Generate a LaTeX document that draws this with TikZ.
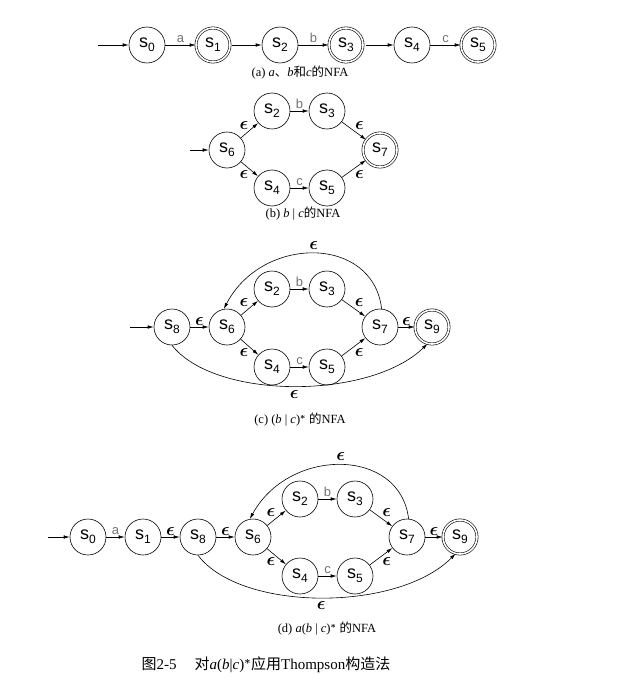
\documentclass[tikz,border=0pt]{standalone}
\usepackage{amsmath}
\usepackage{graphicx}
\usepackage{fontspec}
\setmainfont{Liberation Serif}
\setsansfont{Liberation Sans}
\newfontfamily\cjk{Noto Sans CJK SC}
\usetikzlibrary{arrows.meta}
\newcommand{\stname}[1]{s\raisebox{-0.45ex}{\fontsize{12}{12}\selectfont #1}}
\newcommand{\epsi}{\scalebox{1.8}{$\boldsymbol{\epsilon}$}}

\begin{document}
\begin{tikzpicture}[x=1pt,y=-1pt,line width=0.6pt,
    >={Latex[length=6pt,width=3.5pt]},
    st/.style={circle,draw,minimum size=36pt,inner sep=0pt,
      font=\sffamily\fontsize{18}{18}\selectfont},
    acc/.style={st,double,double distance=1.6pt,minimum size=34pt},
    lbl/.style={font=\sffamily\fontsize{13}{13}\selectfont,text=black!55,inner sep=2pt},
    eps/.style={inner sep=1pt},
    captext/.style={font=\fontsize{12.5}{14}\selectfont}]
  \useasboundingbox (0,0) rectangle (644,679);

  % (a) a, b, c
  \coordinate (ain0) at (98,45);
  \coordinate (ain2) at (232,45);
  \coordinate (ain4) at (366,45);
  \node[st]  (a0) at (147,45) {\stname{0}};
  \node[acc] (a1) at (213,45) {\stname{1}};
  \node[st]  (a2) at (280,45) {\stname{2}};
  \node[acc] (a3) at (346,45) {\stname{3}};
  \node[st]  (a4) at (412,45) {\stname{4}};
  \node[acc] (a5) at (478,45) {\stname{5}};
  \draw[->] (ain0) -- (a0);
  \draw[->] (ain2) -- (a2);
  \draw[->] (ain4) -- (a4);
  \draw[->] (a0) -- node[lbl,above] {a} (a1);
  \draw[->] (a2) -- node[lbl,above] {b} (a3);
  \draw[->] (a4) -- node[lbl,above] {c} (a5);
  \node[captext] (capa) at (300,73) {(a) \textit{a}{\cjk 、}\textit{b}{\cjk 和}\textit{c}{\cjk 的}NFA};

  % (b) b|c
  \coordinate (bin) at (190,150);
  \node[st]  (b6) at (227,150) {\stname{6}};
  \node[st]  (b2) at (272,111) {\stname{2}};
  \node[st]  (b3) at (327,111) {\stname{3}};
  \node[st]  (b4) at (272,188) {\stname{4}};
  \node[st]  (b5) at (327,188) {\stname{5}};
  \node[acc] (b7) at (380,150) {\stname{7}};
  \draw[->] (bin) -- (b6);
  \draw[->] (b6) -- node[eps,above left] {\epsi} (b2);
  \draw[->] (b6) -- node[eps,below left] {\epsi} (b4);
  \draw[->] (b2) -- node[lbl,above] {b} (b3);
  \draw[->] (b4) -- node[lbl,above] {c} (b5);
  \draw[->] (b3) -- node[eps,above right] {\epsi} (b7);
  \draw[->] (b5) -- node[eps,below right] {\epsi} (b7);
  \node[captext] (capb) at (303,214) {(b) \textit{b} | \textit{c}{\cjk 的}NFA};

  % (c) (b|c)*
  \coordinate (cin) at (130,327);
  \node[st]  (c8) at (172,327) {\stname{8}};
  \node[st]  (c6) at (227,327) {\stname{6}};
  \node[st]  (c2) at (272,289) {\stname{2}};
  \node[st]  (c3) at (327,289) {\stname{3}};
  \node[st]  (c4) at (272,367) {\stname{4}};
  \node[st]  (c5) at (327,367) {\stname{5}};
  \node[st]  (c7) at (380,327) {\stname{7}};
  \node[acc] (c9) at (432,327) {\stname{9}};
  \draw[->] (cin) -- (c8);
  \draw[->] (c8) -- node[eps,above] {\epsi} (c6);
  \draw[->] (c6) -- node[eps,above left] {\epsi} (c2);
  \draw[->] (c6) -- node[eps,below left] {\epsi} (c4);
  \draw[->] (c2) -- node[lbl,above] {b} (c3);
  \draw[->] (c4) -- node[lbl,above] {c} (c5);
  \draw[->] (c3) -- node[eps,above right] {\epsi} (c7);
  \draw[->] (c5) -- node[eps,below right] {\epsi} (c7);
  \draw[->] (c7) -- node[eps,above] {\epsi} (c9);
  \draw[->] (c7.85) .. controls (373,235) and (262,235) .. node[eps,above=3pt] {\epsi} (c6.100);
  \draw[->] (c8.270) .. controls (215,400) and (370,400) .. node[eps,below=3pt] {\epsi} (c9.255);
  \node[captext] (capc) at (300,420) {(c) (\textit{b} | \textit{c})$^{\boldsymbol{*}}$ {\cjk 的}NFA};

  % (d) a(b|c)*
  \coordinate (din) at (48,537);
  \node[st]  (d0) at (88,537)  {\stname{0}};
  \node[st]  (d1) at (143,537) {\stname{1}};
  \node[st]  (d8) at (198,537) {\stname{8}};
  \node[st]  (d6) at (253,537) {\stname{6}};
  \node[st]  (d2) at (300,499) {\stname{2}};
  \node[st]  (d3) at (355,499) {\stname{3}};
  \node[st]  (d4) at (300,576) {\stname{4}};
  \node[st]  (d5) at (355,576) {\stname{5}};
  \node[st]  (d7) at (407,537) {\stname{7}};
  \node[acc] (d9) at (460,537) {\stname{9}};
  \draw[->] (din) -- (d0);
  \draw[->] (d0) -- node[lbl,above] {a} (d1);
  \draw[->] (d1) -- node[eps,above] {\epsi} (d8);
  \draw[->] (d8) -- node[eps,above] {\epsi} (d6);
  \draw[->] (d6) -- node[eps,above left] {\epsi} (d2);
  \draw[->] (d6) -- node[eps,below left] {\epsi} (d4);
  \draw[->] (d2) -- node[lbl,above] {b} (d3);
  \draw[->] (d4) -- node[lbl,above] {c} (d5);
  \draw[->] (d3) -- node[eps,above right] {\epsi} (d7);
  \draw[->] (d5) -- node[eps,below right] {\epsi} (d7);
  \draw[->] (d7) -- node[eps,above] {\epsi} (d9);
  \draw[->] (d7.85) .. controls (400,447) and (289,447) .. node[eps,above=3pt] {\epsi} (d6.100);
  \draw[->] (d8.270) .. controls (241,612) and (398,612) .. node[eps,below=3pt] {\epsi} (d9.255);
  \node[captext] (capd) at (327,629) {(d) \textit{a}(\textit{b} | \textit{c})$^{\boldsymbol{*}}$ {\cjk 的}NFA};

  \node[captext,font=\fontsize{15}{16}\selectfont] (fig) at (266,665)
    {{\cjk 图}2-5\hspace{1.2em}{\cjk 对}\textit{a}(\textit{b}|\textit{c})$^{\boldsymbol{*}}${\cjk 应用}Thompson{\cjk 构造法}};
\end{tikzpicture}
\end{document}
